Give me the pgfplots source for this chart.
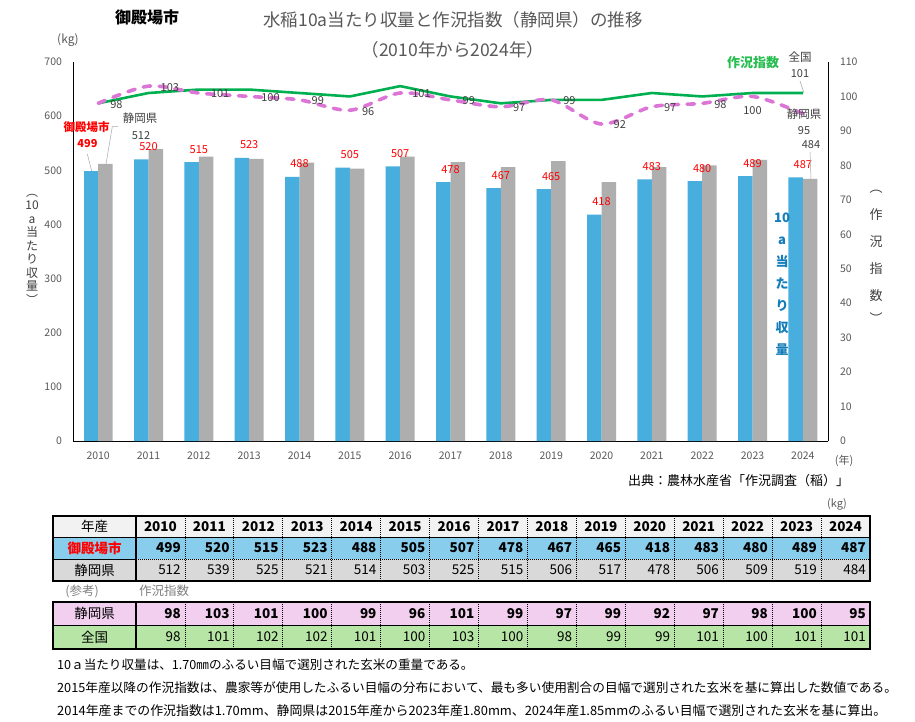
\documentclass[border=0pt]{standalone}
\usepackage{pgfplots}
\pgfplotsset{compat=1.18}
\usepackage{fontspec}
\setmainfont{Noto Sans CJK JP}
\definecolor{barblue}{RGB}{71,174,222}
\definecolor{bargray}{RGB}{174,174,174}
\definecolor{linegreen}{RGB}{0,176,80}
\definecolor{linepink}{RGB}{220,118,214}
\definecolor{lblgray}{RGB}{64,64,64}
\definecolor{tickgray}{RGB}{89,89,89}
\definecolor{titlegray}{RGB}{89,89,89}
\definecolor{redlbl}{RGB}{255,0,0}
\definecolor{bluetxt}{RGB}{20,125,185}
\definecolor{greentxt}{RGB}{40,190,80}
\definecolor{hdrgray}{RGB}{242,242,242}
\definecolor{rowblue}{RGB}{137,205,236}
\definecolor{rowgray}{RGB}{217,217,217}
\definecolor{rowpink}{RGB}{242,206,239}
\definecolor{rowgreen}{RGB}{183,229,165}
\newcommand{\fs}[1]{\fontsize{#1}{#1}\selectfont}
\begin{document}
\begin{tikzpicture}[lbl/.style={font=\fs{11}, text=lblgray, inner sep=0pt}]
\useasboundingbox (0,0) rectangle (915pt,721pt);
\fill[white] (0,0) rectangle (915pt,721pt);
% ---------------- bar axis ----------------
\begin{axis}[
  at={(73pt,280pt)}, anchor=south west, scale only axis,
  width=755pt, height=379pt,
  xmin=-0.5, xmax=14.5, ymin=0, ymax=700,
  axis x line*=bottom, axis y line*=left,
  axis line style={black, line width=0.9pt, -},
  xtick={0,...,14},
  xticklabels={2010,2011,2012,2013,2014,2015,2016,2017,2018,2019,2020,2021,2022,2023,2024},
  ytick={0,100,...,700},
  major tick length=0pt,
  tick label style={font=\fs{10.5}, text=tickgray},
  xticklabel style={yshift=-7pt},
  yticklabel style={xshift=-7.5pt},
  /pgf/number format/assume math mode=true,
  /pgf/number format/1000 sep={},
  clip=false,
]
\addplot[ybar, bar width=14.5pt, bar shift=-7.25pt, fill=barblue, draw=none]
  coordinates {(0,499)};
\addplot[ybar, bar width=14.5pt, bar shift=-7.25pt, fill=barblue, draw=none,
  nodes near coords,
  every node near coord/.append style={anchor=south, inner sep=0pt, yshift=8.5pt, font=\fs{11}, text=redlbl}]
  coordinates {(1,520) (2,515) (3,523) (4,488) (5,505) (6,507) (7,478) (8,467) (9,465) (10,418) (11,483) (12,480) (13,489) (14,487)};
\addplot[ybar, bar width=14.5pt, bar shift=7.25pt, fill=bargray, draw=none]
  coordinates {(0,512) (1,539) (2,525) (3,521) (4,514) (5,503) (6,525) (7,515) (8,506) (9,517) (10,478) (11,506) (12,509) (13,519) (14,484)};
\end{axis}
% ---------------- line axis ----------------
\begin{axis}[
  at={(73pt,280pt)}, anchor=south west, scale only axis,
  width=755pt, height=379pt,
  xmin=-0.5, xmax=14.5, ymin=0, ymax=110,
  axis x line=none, axis y line*=right,
  axis line style={black, line width=0.9pt, -},
  ytick={0,10,...,110},
  major tick length=0pt,
  tick label style={font=\fs{10.5}, text=tickgray},
  yticklabel style={xshift=8.5pt},
  /pgf/number format/assume math mode=true,
  clip=false,
]
\addplot[color=linegreen, line width=2.6pt, mark=none]
  coordinates {(0,98) (1,101) (2,102) (3,102) (4,101) (5,100) (6,103) (7,100) (8,98) (9,99) (10,99) (11,101) (12,100) (13,101) (14,101)};
\addplot[color=linepink, line width=3.6pt, dash pattern=on 7.5pt off 8.5pt, line cap=round, smooth, mark=none]
  coordinates {(0,98) (1,103) (2,101) (3,100) (4,99) (5,96) (6,101) (7,99) (8,97) (9,99) (10,92) (11,97) (12,98) (13,100) (14,95)};
\node[lbl, anchor=west, xshift=12pt, yshift=-1pt] at (axis cs:0,98) {98};
\node[lbl, anchor=west, xshift=12pt, yshift=-1pt] at (axis cs:1,103) {103};
\node[lbl, anchor=west, xshift=12pt, yshift=-1pt] at (axis cs:2,101) {101};
\node[lbl, anchor=west, xshift=12pt, yshift=-1pt] at (axis cs:3,100) {100};
\node[lbl, anchor=west, xshift=12pt, yshift=-1pt] at (axis cs:4,99) {99};
\node[lbl, anchor=west, xshift=12pt, yshift=-1pt] at (axis cs:5,96) {96};
\node[lbl, anchor=west, xshift=12pt, yshift=-1pt] at (axis cs:6,101) {101};
\node[lbl, anchor=west, xshift=12pt, yshift=-1pt] at (axis cs:7,99) {99};
\node[lbl, anchor=west, xshift=12pt, yshift=-1pt] at (axis cs:8,97) {97};
\node[lbl, anchor=west, xshift=12pt, yshift=-1pt] at (axis cs:9,99) {99};
\node[lbl, anchor=west, xshift=12pt, yshift=-1pt] at (axis cs:10,92) {92};
\node[lbl, anchor=west, xshift=12pt, yshift=-1pt] at (axis cs:11,97) {97};
\node[lbl, anchor=west, xshift=12pt, yshift=-1pt] at (axis cs:12,98) {98};
\node[lbl, anchor=north, yshift=-9.5pt] at (axis cs:13,100) {100};
\end{axis}
% ---------------- annotations in pixel coordinates ----------------
\begin{scope}[x=1pt, y=-1pt, yshift=721pt]
\node[font=\fs{17.5}, text=titlegray] at (453,20) {水稲10a当たり収量と作況指数（静岡県）の推移};
\node[font=\fs{17.5}, text=titlegray] at (453,50) {（2010年から2024年）};
\node[font=\bfseries\fs{16}] at (147,17) {御殿場市};
\node[font=\fs{12}, text=tickgray] at (68,40) {(kg)};
\node[font=\fs{12}, text=lblgray, align=center, inner sep=0pt] at (32,249)
  {︵\\[1.5pt]10\\[1.5pt]a\\[1.5pt]当\\[1.5pt]た\\[1.5pt]り\\[1.5pt]収\\[1.5pt]量\\[1.5pt]︶};
\node[font=\fs{13}, text=lblgray, align=center, inner sep=0pt] at (876,257)
  {︵\\[14pt]作\\[14pt]況\\[14pt]指\\[14pt]数\\[10pt]︶};
\node[font=\bfseries\fs{13}, text=bluetxt, align=center, inner sep=0pt] at (782,284)
  {10\\[9pt]a\\[9pt]当\\[9pt]た\\[9pt]り\\[9pt]収\\[9pt]量};
\node[font=\bfseries\fs{13}, text=greentxt] at (753,63) {作況指数};
% 2024 labels
\node[lbl, font=\fs{11.5}] at (800,57) {全国};
\node[lbl] at (800,74) {101};
\draw[gray!70, line width=0.5pt] (800,81) -- (804,93);
\node[lbl, font=\fs{11.5}] at (804,114) {静岡県};
\node[lbl] at (804,131) {95};
\node[lbl] at (811,145) {484};
\draw[gray!70, line width=0.5pt] (810,152) -- (811,179);
% 2010 labels
\node[font=\bfseries\fs{11.5}, text=redlbl, inner sep=0pt] at (86.5,127) {御殿場市};
\node[font=\bfseries\fs{11}, text=redlbl, inner sep=0pt] at (87.5,144) {499};
\draw[gray!70, line width=0.5pt] (87.3,154) -- (91.7,171);
\node[lbl, font=\fs{11.5}] at (140,118) {静岡県};
\node[lbl] at (141,136) {512};
\draw[gray!70, line width=0.5pt] (106,164) -- (112.3,126.7) -- (118,126.7);
% axis extras
\node[font=\fs{11}, text=tickgray] at (844,461) {(年)};
\node[font=\fs{13}, anchor=west, inner sep=0pt] at (628,481) {出典：農林水産省「作況調査（稲）」};
\node[font=\fs{11}, text=tickgray] at (837,504) {(kg)};
% ---------------- table 1 ----------------
\fill[hdrgray] (53,516) rectangle (870,537);
\fill[rowblue] (53,537) rectangle (870,559);
\fill[rowgray] (53,559) rectangle (870,581);
\draw[line width=0.6pt] (53,537) -- (870,537);
\draw[line width=0.7pt, dash pattern=on 1pt off 1pt] (136,559) -- (870,559);
\draw[line width=0.6pt] (53,559) -- (136,559);
\foreach \i in {1,...,14} {
  \draw[line width=0.8pt, dash pattern=on 1pt off 1pt] ({136+48.93*\i},516) -- ({136+48.93*\i},581);
}
\draw[line width=1.2pt] (136,516) -- (136,581);
\draw[line width=1.2pt] (53,516) rectangle (870,581);
\node[font=\fs{13.5}] at (94.5,526.5) {年産};
\node[font=\bfseries\fs{13.5}, text=redlbl] at (94.5,548) {御殿場市};
\node[font=\fs{13.5}] at (94.5,570) {静岡県};
\foreach \v [count=\i] in {2010,2011,2012,2013,2014,2015,2016,2017,2018,2019,2020,2021,2022,2023,2024} {
  \node[font=\bfseries\fs{13.5}] at ({136+48.93*(\i-0.5)},526.5) {\v};
}
\foreach \v [count=\i] in {499,520,515,523,488,505,507,478,467,465,418,483,480,489,487} {
  \node[font=\bfseries\fs{13.5}, anchor=east, inner sep=0pt] at ({136+48.93*\i-4},548) {\v};
}
\foreach \v [count=\i] in {512,539,525,521,514,503,525,515,506,517,478,506,509,519,484} {
  \node[font=\fs{13.5}, anchor=east, inner sep=0pt] at ({136+48.93*\i-4},570) {\v};
}
\node[font=\fs{12.5}, text=gray] at (82,591) {(参考)};
\node[font=\fs{12.5}, text=gray] at (164,591) {作況指数};
% ---------------- table 2 ----------------
\fill[rowpink] (53,602) rectangle (870,625.5);
\fill[rowgreen] (53,625.5) rectangle (870,649);
\draw[line width=0.6pt] (53,625.5) -- (870,625.5);
\foreach \i in {1,...,14} {
  \draw[line width=0.8pt, dash pattern=on 1pt off 1pt] ({136+48.93*\i},602) -- ({136+48.93*\i},649);
}
\draw[line width=1.2pt] (136,602) -- (136,649);
\draw[line width=1.2pt] (53,602) rectangle (870,649);
\node[font=\fs{13.5}] at (94.5,613.5) {静岡県};
\node[font=\fs{13.5}] at (94.5,637) {全国};
\foreach \v [count=\i] in {98,103,101,100,99,96,101,99,97,99,92,97,98,100,95} {
  \node[font=\bfseries\fs{13.5}, anchor=east, inner sep=0pt] at ({136+48.93*\i-4},613.5) {\v};
}
\foreach \v [count=\i] in {98,101,102,102,101,100,103,100,98,99,99,101,100,101,101} {
  \node[font=\fs{13.5}, anchor=east, inner sep=0pt] at ({136+48.93*\i-4},637) {\v};
}
% ---------------- footnotes ----------------
\node[font=\fs{12.6}, anchor=west, inner sep=0pt] at (57,665) {10ａ当たり収量は、1.70㎜のふるい目幅で選別された玄米の重量である。};
\node[font=\fs{12.7}, anchor=west, inner sep=0pt] at (57,688) {2015年産以降の作況指数は、農家等が使用したふるい目幅の分布において、最も多い使用割合の目幅で選別された玄米を基に算出した数値である。};
\node[font=\fs{12.9}, anchor=west, inner sep=0pt] at (57,711) {2014年産までの作況指数は1.70mm、静岡県は2015年産から2023年産1.80mm、2024年産1.85mmのふるい目幅で選別された玄米を基に算出。};
\end{scope}
\end{tikzpicture}
\end{document}
